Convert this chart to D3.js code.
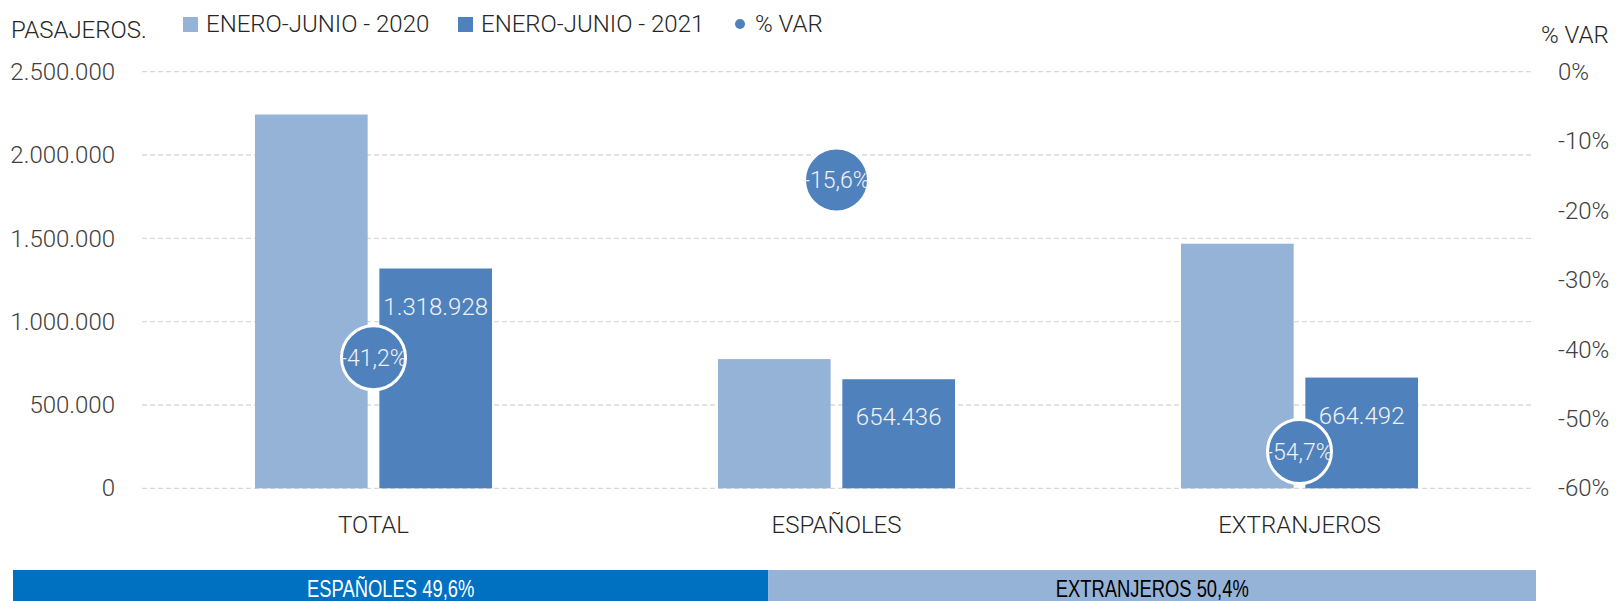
<!DOCTYPE html>
<html>
<head>
<meta charset="utf-8">
<script src="https://cdn.jsdelivr.net/npm/d3@7"></script>
<style>
  body { margin: 0; background: #fff; }
  svg { display: block; font-family: Roboto, sans-serif; font-weight: 300; }
</style>
</head>
<body>
<div id="chart"></div>
<script>
// Data
const categories = ['TOTAL', 'ESPAÑOLES', 'EXTRANJEROS'];
const seriesNames = ['ENERO-JUNIO - 2020', 'ENERO-JUNIO - 2021'];
const values2020 = [2243100, 775400, 1467700];
const values2021 = [1318928, 654436, 664492];
const variation = [-0.412, -0.156, -0.547];
const leftTicks = [0, 500000, 1000000, 1500000, 2000000, 2500000];
const rightTicks = [-0.6, -0.5, -0.4, -0.3, -0.2, -0.1, 0];
const shareLabels = ['ESPAÑOLES', 'EXTRANJEROS'];
const shareValues = [0.496, 0.504];

const width = 1616;
const height = 601;
const colors = ['#95B3D7', '#4F81BD'];

// Spanish number format, plain hyphen as minus
const es = d3.formatLocale({ decimal: ',', thousands: '.', grouping: [3], currency: ['', '€'], minus: '-' });
const fmtNum = es.format(',.0f');
const fmtPct = es.format('.1%');
const fmtTick = es.format('.0%');

const svg = d3.select('#chart')
    .append('svg')
    .attr('width', width)
    .attr('height', height);

// Scales
const x0 = d3.scaleBand()
    .domain(categories)
    .range([142, 1531])
    .paddingInner(0.488)
    .paddingOuter(0.244);

const x1 = d3.scaleBand()
    .domain(seriesNames)
    .range([0, x0.bandwidth()])
    .paddingInner(0.094);

const y = d3.scaleLinear()
    .domain([0, 2500000])
    .range([488.3, 71.7]);

const y2 = d3.scaleLinear()
    .domain([-0.6, 0])
    .range([488.3, 71.7]);

// Gridlines
svg.append('g')
    .selectAll('line')
    .data(leftTicks)
    .enter()
    .append('line')
    .attr('x1', 142)
    .attr('x2', 1531)
    .attr('y1', d => y(d))
    .attr('y2', d => y(d))
    .attr('stroke', '#d9d9d9')
    .attr('stroke-width', 1.3)
    .attr('stroke-dasharray', '5,3');

// Left axis
const leftAxis = svg.append('g')
    .attr('transform', 'translate(142,0)')
    .call(d3.axisLeft(y).tickValues(leftTicks).tickSize(0).tickPadding(27).tickFormat(fmtNum));
leftAxis.select('.domain').remove();
leftAxis.selectAll('text')
    .attr('fill', '#404040')
    .style('font-size', '24px')
    .style('font-family', 'Roboto, sans-serif');

// Right axis
const rightAxis = svg.append('g')
    .attr('transform', 'translate(1531,0)')
    .call(d3.axisRight(y2).tickValues(rightTicks).tickSize(0).tickPadding(27).tickFormat(fmtTick));
rightAxis.select('.domain').remove();
rightAxis.selectAll('text')
    .attr('fill', '#404040')
    .style('font-size', '24px')
    .style('font-family', 'Roboto, sans-serif');

// Bottom axis (category labels)
const bottomAxis = svg.append('g')
    .attr('transform', 'translate(0,488.3)')
    .call(d3.axisBottom(x0).tickSize(0).tickPadding(28));
bottomAxis.select('.domain').remove();
bottomAxis.selectAll('text')
    .attr('fill', '#262626')
    .style('font-size', '24px')
    .style('font-family', 'Roboto, sans-serif');

// Axis titles
svg.append('text')
    .attr('x', 11)
    .attr('y', 38)
    .attr('fill', '#262626')
    .style('font-size', '24px')
    .text('PASAJEROS.');

svg.append('text')
    .attr('x', 1541)
    .attr('y', 43)
    .attr('fill', '#262626')
    .style('font-size', '24px')
    .text('% VAR');

// Bars
const rows = categories.map((c, i) => ({ cat: c, vals: [values2020[i], values2021[i]], v: variation[i] }));

const groups = svg.selectAll('.group')
    .data(rows)
    .enter()
    .append('g')
    .attr('class', 'group')
    .attr('transform', d => `translate(${x0(d.cat)},0)`);

groups.selectAll('rect')
    .data(d => d.vals.map((v, j) => ({ name: seriesNames[j], value: v, j: j })))
    .enter()
    .append('rect')
    .attr('x', d => x1(d.name))
    .attr('y', d => y(d.value))
    .attr('width', x1.bandwidth())
    .attr('height', d => y(0) - y(d.value))
    .attr('fill', d => colors[d.j]);

// Labels on 2021 bars
groups.append('text')
    .attr('x', x1(seriesNames[1]) + x1.bandwidth() / 2)
    .attr('y', d => y(d.vals[1]) + 46)
    .attr('text-anchor', 'middle')
    .attr('fill', '#f2f2f2')
    .style('font-size', '24px')
    .text(d => fmtNum(d.vals[1]));

// Variation bubbles
const bubbles = svg.selectAll('.bubble')
    .data(rows)
    .enter()
    .append('g')
    .attr('class', 'bubble')
    .attr('transform', d => `translate(${x0(d.cat) + x0.bandwidth() / 2},${y2(d.v)})`);

bubbles.append('circle')
    .attr('r', 32)
    .attr('fill', '#4F81BD')
    .attr('stroke', '#fff')
    .attr('stroke-width', 3);

bubbles.append('text')
    .attr('text-anchor', 'middle')
    .attr('dy', '0.35em')
    .attr('fill', '#f2f2f2')
    .style('font-size', '23px')
    .text(d => fmtPct(d.v));

// Legend
const legendItems = [
    { label: seriesNames[0], x: 183, type: 'rect', color: colors[0] },
    { label: seriesNames[1], x: 458, type: 'rect', color: colors[1] },
    { label: '% VAR', x: 735, type: 'dot', color: colors[1] }
];

const legend = svg.selectAll('.legend')
    .data(legendItems)
    .enter()
    .append('g')
    .attr('class', 'legend')
    .attr('transform', d => `translate(${d.x},0)`);

legend.filter(d => d.type === 'rect')
    .append('rect')
    .attr('y', 17)
    .attr('width', 15)
    .attr('height', 15)
    .attr('fill', d => d.color);

legend.filter(d => d.type === 'dot')
    .append('circle')
    .attr('cx', 5)
    .attr('cy', 24)
    .attr('r', 5)
    .attr('fill', d => d.color);

legend.append('text')
    .attr('x', d => d.type === 'rect' ? 23 : 20)
    .attr('y', 32)
    .attr('fill', '#262626')
    .style('font-size', '24px')
    .text(d => d.label);

// Bottom share bar
const xs = d3.scaleLinear().domain([0, 1]).range([13, 1536]);
const shares = shareLabels.map((l, i) => ({
    label: l,
    value: shareValues[i],
    start: d3.sum(shareValues.slice(0, i))
}));

const shareG = svg.selectAll('.share')
    .data(shares)
    .enter()
    .append('g')
    .attr('class', 'share');

shareG.append('rect')
    .attr('x', d => xs(d.start))
    .attr('y', 570)
    .attr('width', d => xs(d.start + d.value) - xs(d.start))
    .attr('height', 40)
    .attr('fill', (d, i) => i === 0 ? '#0070C0' : '#95B3D7');

// condensed look: squeeze the text horizontally
shareG.append('text')
    .attr('transform', d => `translate(${(xs(d.start) + xs(d.start + d.value)) / 2},597) scale(0.8,1)`)
    .attr('text-anchor', 'middle')
    .attr('fill', (d, i) => i === 0 ? '#ffffff' : '#000000')
    .style('font-family', '"Liberation Sans", Arial, sans-serif')
    .style('font-weight', 400)
    .style('font-size', '23px')
    .text(d => `${d.label} ${fmtPct(d.value)}`);
</script>
</body>
</html>
